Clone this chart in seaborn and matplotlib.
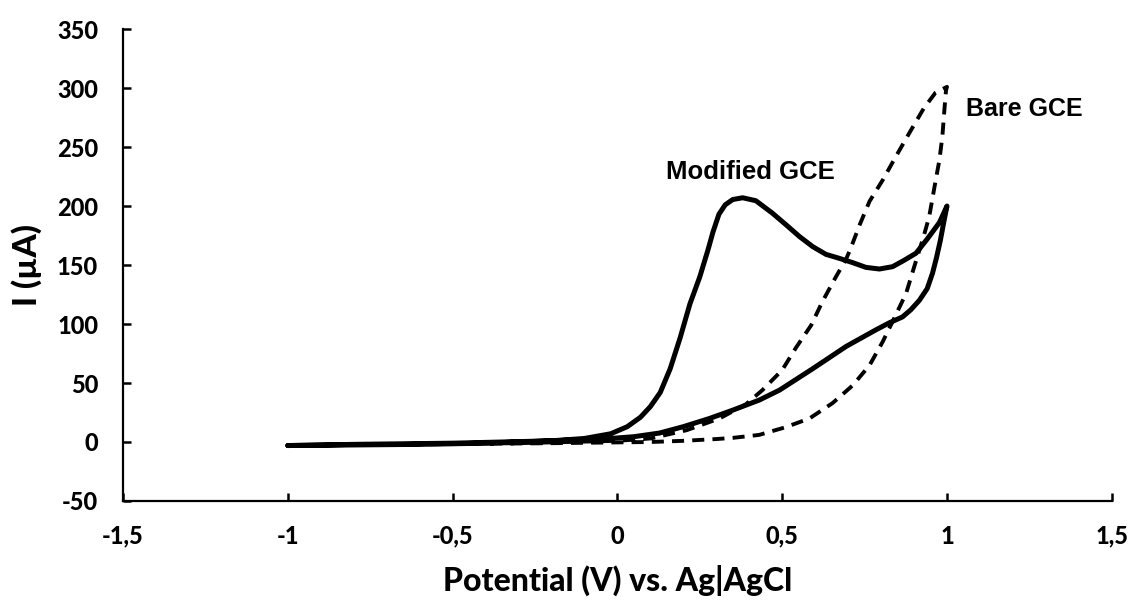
import matplotlib
matplotlib.use("Agg")
import matplotlib.pyplot as plt
import seaborn as sns
import pandas as pd
from matplotlib.ticker import FixedLocator, FuncFormatter

# ---- data ----
mod_V = [-1.0, -0.8, -0.6, -0.4, -0.2, -0.1, -0.02, 0.03, 0.07, 0.1, 0.13, 0.16, 0.19, 0.22, 0.25,
         0.275, 0.29, 0.308, 0.327, 0.35, 0.38, 0.42, 0.47, 0.512, 0.553,
         0.593, 0.633, 0.674, 0.714, 0.754, 0.795, 0.835, 0.87, 0.906, 0.94, 0.977, 1.0,
         0.99, 0.98, 0.968, 0.956, 0.94, 0.916, 0.89, 0.865, 0.825, 0.784, 0.694, 0.592, 0.492,
         0.431, 0.35, 0.28, 0.2, 0.128, 0.05, -0.02, -0.2, -0.5, -0.8, -1.0]
mod_I = [-3, -2.5, -2, -1, 1, 3, 7, 13, 21, 30, 42, 62, 88, 117, 140,
         163, 178, 193, 201, 205.5, 207, 204.5, 194, 184, 174,
         165.5, 159, 155.6, 152, 148, 146.6, 148.6, 154, 160, 172, 186, 200,
         186, 171, 156, 143, 130, 120, 112, 106, 101, 95, 81, 62, 44,
         35.6, 27, 20, 13, 7.6, 4.5, 3, 1, -1, -2, -3]

bare_V = [-1.0, -0.6, -0.2, 0.1, 0.2, 0.3, 0.35, 0.43, 0.51, 0.583, 0.653, 0.714, 0.765, 0.805, 0.84,
          0.876, 0.90, 0.93, 0.946, 0.962, 0.977, 0.986, 0.992, 0.997, 1.0,
          0.965, 0.93, 0.886, 0.845, 0.805, 0.765, 0.735, 0.709, 0.694, 0.663, 0.622, 0.588, 0.542,
          0.50, 0.44, 0.39, 0.31, 0.21, 0.1, 0.0, -0.3, -0.7, -1.0]
bare_I = [-3, -2, -1, 0, 1, 2.5, 3.5, 6, 12.5, 20, 33, 48, 65, 85, 105,
          126, 148, 175, 191, 216, 239, 259, 281, 298, 301,
          296, 283, 262, 242, 222, 204, 184, 165, 155, 140, 119, 99, 80,
          61, 44, 32, 20, 10, 3, 1, -1, -2, -3]

x_ticks = [-1.5, -1.0, -0.5, 0.0, 0.5, 1.0, 1.5]
y_ticks = [-50, 0, 50, 100, 150, 200, 250, 300, 350]
label_mod = "Modified GCE"
label_bare = "Bare GCE"
x_title = "Potential (V) vs. Ag|AgCl"
y_title = "I (µA)"

df_mod = pd.DataFrame({"V": mod_V, "I": mod_I})
df_bare = pd.DataFrame({"V": bare_V, "I": bare_I})

sns.set_theme(style="ticks")
plt.rcParams["font.family"] = ["Lato", "DejaVu Sans"]
plt.rcParams["font.weight"] = "bold"
plt.rcParams["axes.labelweight"] = "bold"
plt.rcParams.update({
    "xtick.direction": "in", "ytick.direction": "in",
    "xtick.major.size": 6, "ytick.major.size": 6,
    "xtick.major.width": 1.6, "ytick.major.width": 1.6,
    "xtick.color": "black", "ytick.color": "black",
    "xtick.bottom": True, "ytick.left": True,
    "xtick.top": False, "ytick.right": False,
})

fig = plt.figure(figsize=(11.31, 6.01), dpi=100)
ax = fig.add_axes([0.1088, 0.1664, 0.983 - 0.1088, 0.9517 - 0.1664])

sns.lineplot(data=df_mod, x="V", y="I", sort=False, estimator=None, ax=ax,
             color="black", linewidth=3.6, solid_capstyle="round", solid_joinstyle="round")
sns.lineplot(data=df_bare, x="V", y="I", sort=False, estimator=None, ax=ax,
             color="black", linewidth=2.8, linestyle=(0, (3.1, 2.1)))

ax.set_xlim(-1.5, 1.5)
ax.set_ylim(-50, 350)
ax.xaxis.set_major_locator(FixedLocator(x_ticks))
ax.yaxis.set_major_locator(FixedLocator(y_ticks))

ax.xaxis.set_major_formatter(FuncFormatter(lambda v, p: ("%g" % v).replace(".", ",")))
ax.yaxis.set_major_formatter(FuncFormatter(lambda v, p: "%d" % v))

for side in ["top", "right"]:
    ax.spines[side].set_visible(False)
for side in ["left", "bottom"]:
    ax.spines[side].set_color("black")
    ax.spines[side].set_linewidth(1.6)

ax.tick_params(axis="both", which="major", direction="in", length=6, width=1.6,
               color="black", labelsize=17, labelcolor="black",
               bottom=True, left=True, top=False, right=False)
ax.tick_params(axis="y", pad=18)
ax.tick_params(axis="x", pad=17)
for lab in ax.get_xticklabels() + ax.get_yticklabels():
    lab.set_fontweight(900)
for t in ax.xaxis.get_major_ticks() + ax.yaxis.get_major_ticks():
    t.tick1line.set_visible(True)
    t.tick1line.set_color("black")
    t.tick1line.set_markersize(6)
    t.tick1line.set_markeredgewidth(1.8)
    t.tick1line.set_zorder(5)
ax.set_axisbelow(False)

ax.set_xlabel(x_title, fontsize=23, fontweight=900, color="black", labelpad=12)
ax.set_ylabel(y_title, fontsize=24, fontweight=900, color="black", labelpad=11)

ax.text(0.148, 222.6, label_mod, fontsize=18.5, fontweight="bold",
        family=["Liberation Sans", "DejaVu Sans"], va="baseline", ha="left", color="black")
ax.text(1.058, 276, label_bare, fontsize=18, fontweight="bold",
        family=["Liberation Sans", "DejaVu Sans"], va="baseline", ha="left", color="black")

ax.grid(False)
fig.savefig("out.png", dpi=100, facecolor="white")
